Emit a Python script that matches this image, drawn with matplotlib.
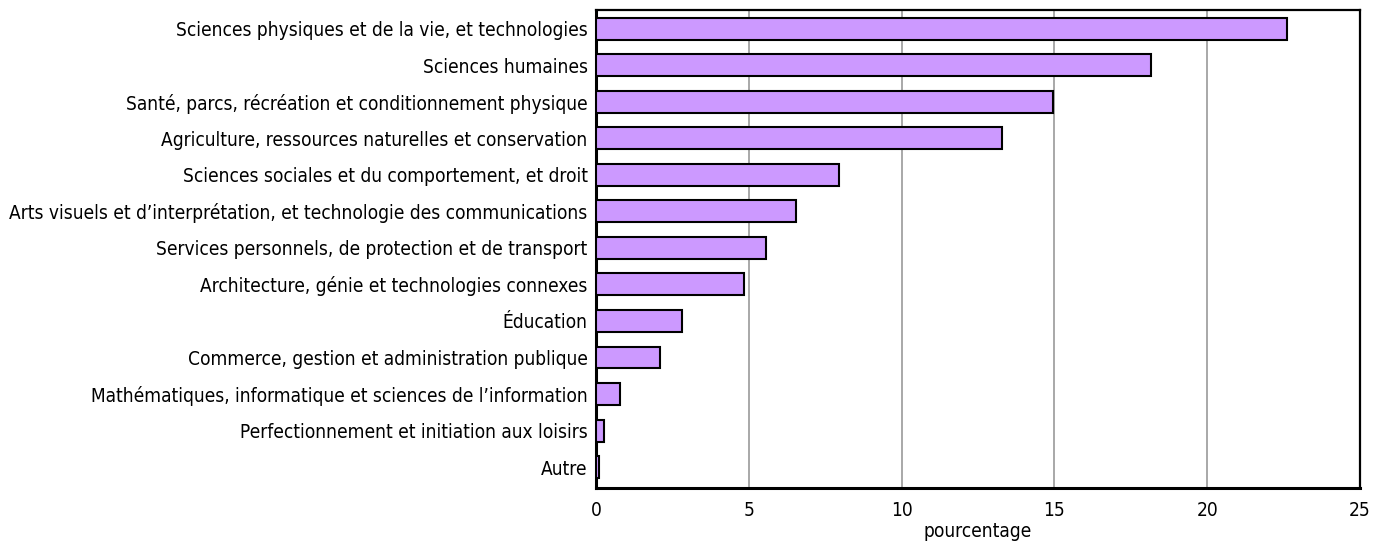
import matplotlib
matplotlib.use("Agg")
import matplotlib.pyplot as plt

categories = [
    "Sciences physiques et de la vie, et technologies",
    "Sciences humaines",
    "Santé, parcs, récréation et conditionnement physique",
    "Agriculture, ressources naturelles et conservation",
    "Sciences sociales et du comportement, et droit",
    "Arts visuels et d\u2019interprétation, et technologie des communications",
    "Services personnels, de protection et de transport",
    "Architecture, génie et technologies connexes",
    "Éducation",
    "Commerce, gestion et administration publique",
    "Mathématiques, informatique et sciences de l\u2019information",
    "Perfectionnement et initiation aux loisirs",
    "Autre",
]
values = [22.6, 18.15, 14.95, 13.3, 7.95, 6.55, 5.55, 4.85, 2.8, 2.1, 0.8, 0.25, 0.1]
xticks = [0, 5, 10, 15, 20, 25]
xlabel = "pourcentage"

plt.rcParams['font.family'] = ['DejaVu Sans']
plt.rcParams['font.stretch'] = 'condensed'

fs = 13.7
fig = plt.figure(figsize=(13.87, 5.48), dpi=100)
ax = fig.add_axes([596/1387, 1-488/548, (1360-596)/1387, (488-10)/548])

pos = list(range(len(categories)))
ax.barh(pos, values, height=0.6, color="#CC99FF", edgecolor="black", linewidth=1.5, zorder=3)
ax.set_ylim(12.57, -0.51)
ax.set_xlim(0, 25)
ax.set_yticks(pos)
ax.set_yticklabels(categories, fontsize=fs, fontstretch='condensed')
ax.set_xticks(xticks)
ax.set_xticklabels([str(t) for t in xticks], fontsize=fs, fontstretch='condensed')
ax.tick_params(length=0, pad=9)
ax.tick_params(axis='y', pad=6)
ax.xaxis.grid(True, color="#999999", linewidth=1.2, zorder=0)
ax.set_axisbelow(True)
for s in ["left", "bottom"]:
    ax.spines[s].set_linewidth(2.2)
for s in ["top", "right"]:
    ax.spines[s].set_linewidth(1.6)
ax.set_xlabel(xlabel, fontsize=fs, fontstretch='condensed', labelpad=2)

fig.savefig("out.png", dpi=100)
